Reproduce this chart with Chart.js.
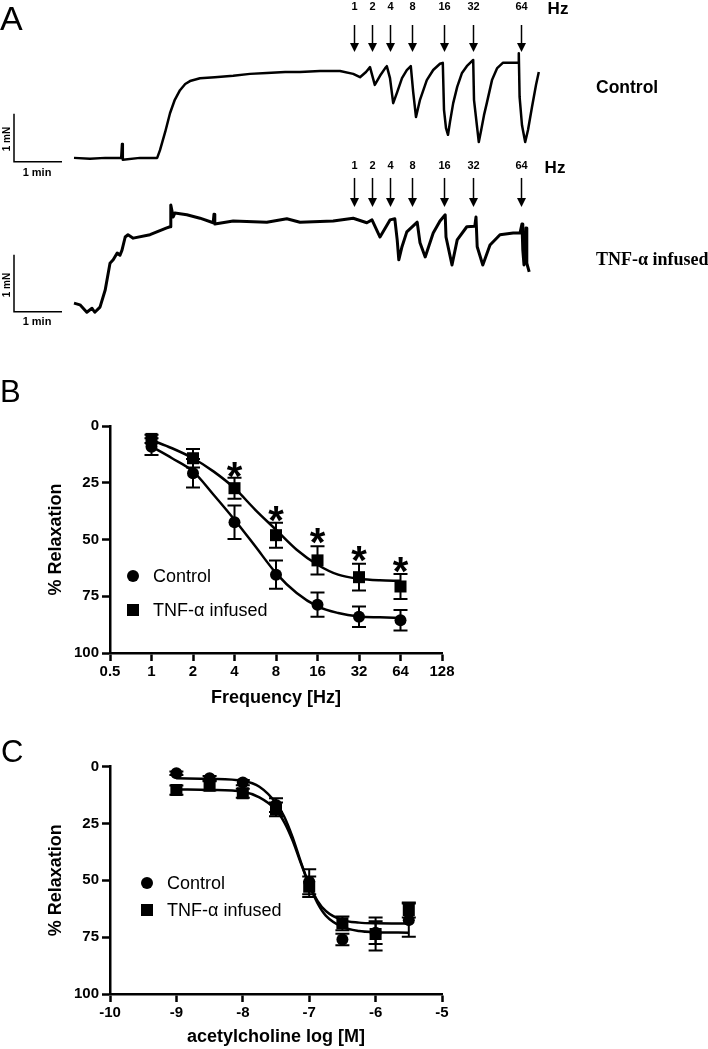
<!DOCTYPE html>
<html><head><meta charset="utf-8">
<script src="https://cdn.jsdelivr.net/npm/chart.js@4.4.1/dist/chart.umd.min.js"></script>
<style>
html,body{margin:0;padding:0;background:#fff;}
#page{position:relative;width:708px;height:1049px;overflow:hidden;background:#fff;font-family:"Liberation Sans",Arial,sans-serif;color:#000;}
.box{position:absolute;}
.t{position:absolute;line-height:1;white-space:nowrap;transform:translate(-50%,-50%);}
.l{position:absolute;line-height:1;white-space:nowrap;transform:translate(0,-50%);}
.r{position:absolute;line-height:1;white-space:nowrap;transform:translate(-50%,-50%) rotate(-90deg);}
.dot{position:absolute;width:12px;height:12px;background:#000;border-radius:50%;transform:translate(-50%,-50%);}
.sq{position:absolute;width:12px;height:12px;background:#000;transform:translate(-50%,-50%);}
</style></head>
<body><div id="page">
<div class="box" style="left:0;top:0;width:708px;height:335px;"><canvas id="cA" width="708" height="335"></canvas></div>
<div class="box" style="left:0;top:380px;width:480px;height:330px;"><canvas id="cB" width="480" height="330"></canvas></div>
<div class="box" style="left:0;top:700px;width:480px;height:349px;"><canvas id="cC" width="480" height="349"></canvas></div>

<div class="l" style="left:0;top:17.5px;font-size:34px;">A</div>
<div class="l" style="left:0;top:391px;font-size:31px;">B</div>
<div class="l" style="left:1px;top:751px;font-size:31px;">C</div>

<div class="t" style="left:558px;top:7.5px;font-size:17px;font-weight:bold;">Hz</div>
<div class="t" style="left:555px;top:167px;font-size:17px;font-weight:bold;">Hz</div>
<div class="l" style="left:596px;top:88px;font-size:17.5px;font-weight:bold;">Control</div>
<div class="l" style="left:596px;top:258.5px;font-size:18px;font-weight:bold;font-family:'Liberation Serif','Times New Roman',serif;">TNF-α infused</div>

<div class="r" style="left:7px;top:139px;font-size:10px;font-weight:bold;">1 mN</div>
<div class="t" style="left:37px;top:172px;font-size:11px;font-weight:bold;">1 min</div>
<div class="r" style="left:7px;top:285px;font-size:10px;font-weight:bold;">1 mN</div>
<div class="t" style="left:37px;top:321px;font-size:11px;font-weight:bold;">1 min</div>

<div class="dot" style="left:132.7px;top:576px;"></div>
<div class="l" style="left:153px;top:576px;font-size:18px;">Control</div>
<div class="sq" style="left:132.7px;top:610px;"></div>
<div class="l" style="left:153px;top:610px;font-size:18px;">TNF-α infused</div>

<div class="dot" style="left:146.7px;top:883px;"></div>
<div class="l" style="left:167px;top:883px;font-size:18px;">Control</div>
<div class="sq" style="left:146.7px;top:910px;"></div>
<div class="l" style="left:167px;top:910px;font-size:18px;">TNF-α infused</div>
</div>
<script>
// ---------- Panel A: isometric tension traces (time in s, force in mN) ----------
const freqLabels = ['1','2','4','8','16','32','64'];
const stimTimesS = [350, 372.5, 395, 422, 462.5, 499, 559];

const ctrlTraceT = [0,20,39,59,60,61,82.5,104,107.5,114,120,126,132.5,139,145,157.5,176,199,220,241,264,282.5,307.5,332.5,349,357.5,365,370,376,382.5,389,391,395,399,404,410,416,421,424,427.5,432.5,441,449,457.5,461,462.5,465,467.5,470,474,479,485,491,499,500,504,506,509,512.5,516,522.5,529,536,555,556,557,560,564,567.5,572.5,577.5,581];
const ctrlTraceF = [0.08,0.06,0.08,0.08,0.37,0.04,0.08,0.08,0.24,0.62,1.01,1.29,1.49,1.62,1.68,1.74,1.76,1.79,1.83,1.85,1.87,1.87,1.89,1.89,1.83,1.76,1.87,1.97,1.60,1.79,1.95,1.99,1.74,1.22,1.45,1.74,1.91,1.99,1.45,0.93,1.29,1.70,1.91,2.04,2.06,1.08,0.70,0.56,0.83,1.22,1.56,1.85,1.99,2.12,1.29,0.70,0.41,0.66,0.97,1.22,1.70,1.95,2.06,2.06,2.26,1.35,0.76,0.41,0.66,1.14,1.60,1.87];

const tnfTraceT = [0,7.5,16,22.5,26,32.5,39,45,49,54,57.5,60,64,67.5,74,95,116,120,121,124,126,141,157.5,174,175,176,199,241,266,282.5,324,349,366,372.5,382.5,395,401,404,406,410,416,429,432.5,439,449,457.5,464,465,472.5,479,491,501,502.5,504,511,520,532.5,549,557.5,560,561,562.5,565,566,569];
const tnfTraceF = [0.15,0.12,-0.01,0.06,-0.01,0.08,0.38,0.85,0.91,1.03,0.99,1.08,1.31,1.35,1.29,1.35,1.47,1.49,1.87,1.66,1.73,1.70,1.64,1.56,1.71,1.54,1.59,1.57,1.63,1.57,1.59,1.64,1.56,1.61,1.31,1.61,1.63,1.26,0.91,1.14,1.40,1.57,1.21,0.96,1.38,1.59,1.70,1.31,0.82,1.26,1.49,1.50,1.66,1.14,0.82,1.17,1.35,1.38,1.38,1.54,1.08,0.82,1.47,0.85,0.70];

const scaleBarT = [-75, -75, -15];   // 1 min
const scaleBarF = [1, 0, 0];         // 1 mN

// ---------- Panel B: frequency response ----------
const freqTicks = [0.5, 1, 2, 4, 8, 16, 32, 64, 128];
const freqHz = [1, 2, 4, 8, 16, 32, 64];
const ctrlRelax = [9.1, 20.8, 42.4, 65.5, 78.7, 84.0, 85.6];
const ctrlSem = [3.7, 6.3, 7.4, 6.2, 5.3, 4.5, 4.5];
const tnfRelax = [5.7, 14.2, 27.4, 48.1, 59.2, 66.6, 70.7];
const tnfSem = [1.8, 4.1, 4.6, 5.5, 6.2, 5.9, 5.5];
const starFreq = [4, 8, 16, 32, 64];
const starVal = [19.4, 38.8, 48.3, 56.4, 61.2];
const fitFreq = [1, 1.41, 2, 2.83, 4, 5.66, 8, 11.3, 16, 22.6, 32, 45.3, 64];
const ctrlFit = [9.1, 14.2, 20, 30.4, 41.3, 53, 64.8, 73.6, 79.5, 82.4, 83.9, 84.3, 84.6];
const tnfFit = [6.2, 9.8, 14.2, 20.1, 27.4, 36.9, 45.7, 54.5, 61.1, 65.5, 67.3, 68.0, 68.2];

// ---------- Panel C: acetylcholine ----------
const achLogM = [-9, -8.5, -8, -7.5, -7, -6.5, -6, -5.5];
const achCtrl = [2.9, 5.1, 7.0, 16.9, 50.6, 76.0, 73.0, 67.5];
const achCtrlSem = [0.8, 1.0, 1.2, 3.0, 5.5, 2.5, 5.0, 7.3];
const achTnf = [10.3, 8.4, 11.7, 18.8, 52.8, 68.9, 73.6, 63.0];
const achTnfSem = [2.0, 2.0, 2.0, 3.0, 4.5, 3.0, 7.3, 3.3];
const achFitX = [-9, -8.5, -8, -7.75, -7.5, -7.375, -7.25, -7.125, -7, -6.875, -6.75, -6.5, -6.25, -6, -5.5];
const achCtrlFit = [5.1, 5.3, 6.2, 8.8, 16, 22, 31, 42, 52, 60, 65.5, 70.5, 72.3, 72.8, 73];
const achTnfFit = [10, 10.2, 11, 13.5, 19, 24.5, 32.5, 42.5, 52, 59, 63.5, 67.5, 68.6, 68.9, 69];
const achTicks = [-10, -9, -8, -7, -6, -5];

const FONT = '"Liberation Sans", Arial, sans-serif';
const pts = (xs, ys) => xs.map((x, i) => ({x: x, y: ys[i]}));

// Plugins
const arrowPlugin = {
  id: 'arrows',
  afterDatasetsDraw(chart, args, opts) {
    const ctx = chart.ctx, xs = chart.scales.x;
    ctx.save();
    ctx.fillStyle = '#000'; ctx.strokeStyle = '#000'; ctx.lineWidth = 1.5;
    ctx.font = 'bold 11px ' + FONT; ctx.textAlign = 'center'; ctx.textBaseline = 'middle';
    opts.rows.forEach(row => {
      const ys = chart.scales[row.axis];
      opts.times.forEach((t, i) => {
        const x = Math.round(xs.getPixelForValue(t)) + 0.5;
        const y0 = ys.getPixelForValue(row.top), y1 = ys.getPixelForValue(row.tip);
        ctx.beginPath(); ctx.moveTo(x, y0); ctx.lineTo(x, y1 - 6); ctx.stroke();
        ctx.beginPath(); ctx.moveTo(x - 4.5, y1 - 9); ctx.lineTo(x + 4.5, y1 - 9); ctx.lineTo(x, y1); ctx.closePath(); ctx.fill();
        ctx.fillText(opts.labels[i], x, ys.getPixelForValue(row.label));
      });
    });
    ctx.restore();
  }
};

const errorBarPlugin = {
  id: 'errorBars',
  beforeDatasetsDraw(chart) {
    const ctx = chart.ctx, xs = chart.scales.x, ys = chart.scales.y;
    ctx.save(); ctx.strokeStyle = '#000'; ctx.lineWidth = 2;
    chart.data.datasets.forEach(ds => {
      if (!ds.errors) return;
      ds.data.forEach((p, i) => {
        const e = ds.errors[i];
        const px = xs.getPixelForValue(p.x);
        const y1 = ys.getPixelForValue(p.y - e), y2 = ys.getPixelForValue(p.y + e);
        ctx.beginPath();
        ctx.moveTo(px, y1); ctx.lineTo(px, y2);
        ctx.moveTo(px - 7, y1); ctx.lineTo(px + 7, y1);
        ctx.moveTo(px - 7, y2); ctx.lineTo(px + 7, y2);
        ctx.stroke();
      });
    });
    ctx.restore();
  }
};

const starPlugin = {
  id: 'stars',
  afterDatasetsDraw(chart, args, opts) {
    if (!opts.x) return;
    const ctx = chart.ctx, xs = chart.scales.x, ys = chart.scales.y;
    ctx.save(); ctx.fillStyle = '#000'; ctx.font = 'bold 40px ' + FONT;
    ctx.textAlign = 'center'; ctx.textBaseline = 'alphabetic';
    const m = ctx.measureText('*');
    const off = (m.actualBoundingBoxAscent - m.actualBoundingBoxDescent) / 2;
    opts.x.forEach((f, i) => {
      ctx.fillText('*', xs.getPixelForValue(f), ys.getPixelForValue(opts.y[i]) + off);
    });
    ctx.restore();
  }
};

// Panel A chart
new Chart(document.getElementById('cA'), {
  type: 'scatter',
  data: { datasets: [
    { data: pts(ctrlTraceT, ctrlTraceF), yAxisID: 'yc', showLine: true, pointRadius: 0, borderColor: '#000', borderWidth: 2.5, borderJoinStyle: 'round', clip: false },
    { data: pts(tnfTraceT, tnfTraceF), yAxisID: 'yt', showLine: true, pointRadius: 0, borderColor: '#000', borderWidth: 3, borderJoinStyle: 'round', clip: false },
    { data: pts(scaleBarT, scaleBarF), yAxisID: 'yc', showLine: true, pointRadius: 0, borderColor: '#000', borderWidth: 1.5, clip: false },
    { data: pts(scaleBarT, scaleBarF), yAxisID: 'yt', showLine: true, pointRadius: 0, borderColor: '#000', borderWidth: 1.5, clip: false }
  ]},
  options: {
    responsive: false, animation: false, devicePixelRatio: 1,
    layout: { padding: 0 },
    plugins: { legend: { display: false }, tooltip: { enabled: false },
      arrows: { times: stimTimesS, labels: freqLabels,
        rows: [ { axis: 'yc', top: 2.848, tip: 2.285, label: 3.223 },
                { axis: 'yt', top: 2.346, tip: 1.837, label: 2.556 } ] } },
    scales: {
      x: { type: 'linear', display: false, min: -92.5, max: 792.5 },
      yc: { type: 'linear', axis: 'y', display: false, min: -3.61, max: 3.369 },
      yt: { type: 'linear', axis: 'y', display: false, min: -0.409, max: 5.468 }
    }
  },
  plugins: [arrowPlugin]
});

function relaxChart(id, xCfg, sets, stars, padTop, xH, xTitle, xTitlePad) {
  const tickFont = { family: FONT, size: 15, weight: 'bold' };
  const titleFont = { family: FONT, size: 18, weight: 'bold' };
  const axisCommon = {
    grid: { drawOnChartArea: false, drawTicks: true, tickLength: 8, tickWidth: 2.5, tickColor: '#000' },
    border: { display: true, color: '#000', width: 2.5 }
  };
  return new Chart(document.getElementById(id), {
    type: 'scatter',
    data: { datasets: sets },
    options: {
      responsive: false, animation: false, devicePixelRatio: 1,
      layout: { padding: { top: padTop, right: 38, left: 0, bottom: 0 } },
      plugins: { legend: { display: false }, tooltip: { enabled: false }, stars: stars },
      scales: {
        x: Object.assign({}, axisCommon, xCfg, {
          afterFit: s => { s.height = xH; },
          ticks: { font: tickFont, color: '#000', padding: 2, maxRotation: 0, autoSkip: false, callback: v => String(v) },
          title: { display: true, text: xTitle, font: titleFont, color: '#000', padding: { top: 0, bottom: xTitlePad } }
        }),
        y: Object.assign({}, axisCommon, {
          type: 'linear', reverse: true, min: 0, max: 100,
          afterFit: s => { s.width = 110; },
          ticks: { stepSize: 25, font: tickFont, color: '#000', padding: 3 },
          title: { display: true, text: '% Relaxation', font: titleFont, color: '#000', padding: { top: 45, bottom: 0 } }
        })
      }
    },
    plugins: [errorBarPlugin, starPlugin]
  });
}

const fitStyle = { showLine: true, pointRadius: 0, borderColor: '#000', borderWidth: 2.5, cubicInterpolationMode: 'monotone' };
const circ = { showLine: false, pointStyle: 'circle', pointRadius: 6, pointBackgroundColor: '#000', pointBorderWidth: 0 };
const rect = { showLine: false, pointStyle: 'rect', pointRadius: 8.5, pointBackgroundColor: '#000', pointBorderWidth: 0 };

relaxChart('cB',
  { type: 'logarithmic', min: 0.5, max: 128, afterBuildTicks: s => { s.ticks = freqTicks.map(v => ({ value: v })); } },
  [
    Object.assign({ data: pts(fitFreq, ctrlFit) }, fitStyle),
    Object.assign({ data: pts(fitFreq, tnfFit) }, fitStyle),
    Object.assign({ label: 'Control', data: pts(freqHz, ctrlRelax), errors: ctrlSem }, circ),
    Object.assign({ label: 'TNF-α infused', data: pts(freqHz, tnfRelax), errors: tnfSem }, rect)
  ],
  { x: starFreq, y: starVal }, 46, 57, 'Frequency [Hz]', 1.2);

relaxChart('cC',
  { type: 'linear', min: -10, max: -5, afterBuildTicks: s => { s.ticks = achTicks.map(v => ({ value: v })); } },
  [
    Object.assign({ data: pts(achFitX, achCtrlFit) }, fitStyle),
    Object.assign({ data: pts(achFitX, achTnfFit) }, fitStyle),
    Object.assign({ label: 'Control', data: pts(achLogM, achCtrl), errors: achCtrlSem }, circ),
    Object.assign({ label: 'TNF-α infused', data: pts(achLogM, achTnf), errors: achTnfSem }, rect)
  ],
  {}, 66.7, 55, 'acetylcholine log [M]', 1.4);
</script>
</body></html>
